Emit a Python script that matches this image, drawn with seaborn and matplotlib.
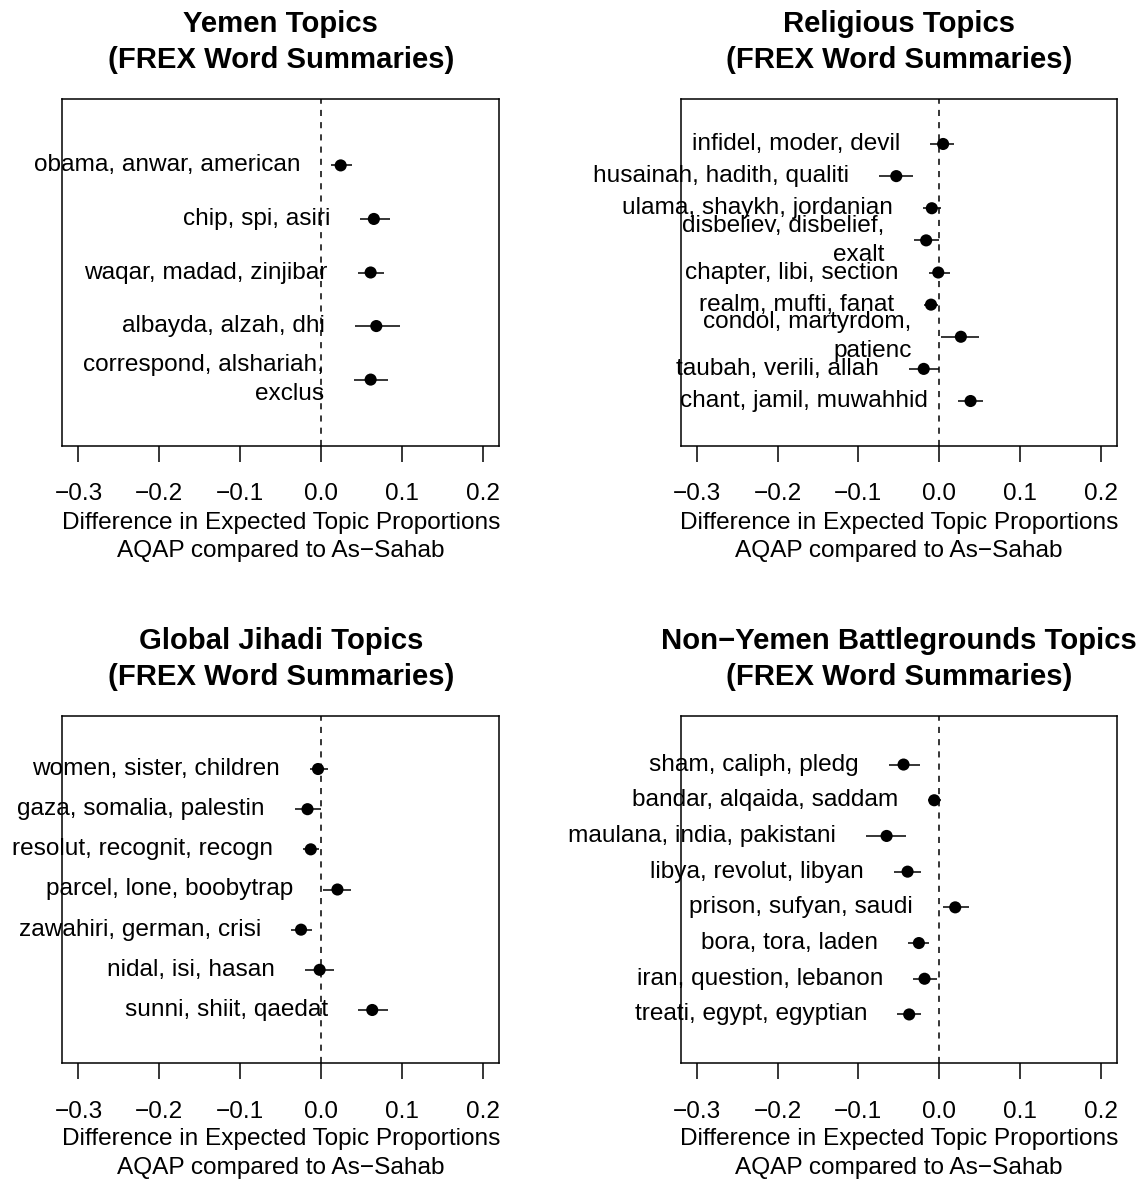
import textwrap
import numpy as np
import pandas as pd
import matplotlib
matplotlib.use("Agg")
import matplotlib.pyplot as plt
import seaborn as sns

# ---------------- data ----------------
yemen_labels = ["obama, anwar, american", "chip, spi, asiri", "waqar, madad, zinjibar",
                "albayda, alzah, dhi", "correspond, alshariah, exclus"]
yemen_est = [0.024, 0.065, 0.061, 0.068, 0.061]
yemen_lo = [0.012, 0.048, 0.045, 0.042, 0.040]
yemen_hi = [0.038, 0.085, 0.077, 0.097, 0.083]

relig_labels = ["infidel, moder, devil", "husainah, hadith, qualiti", "ulama, shaykh, jordanian",
                "disbeliev, disbelief, exalt", "chapter, libi, section", "realm, mufti, fanat",
                "condol, martyrdom, patienc", "taubah, verili, allah", "chant, jamil, muwahhid"]
relig_est = [0.005, -0.053, -0.009, -0.016, -0.001, -0.010, 0.027, -0.019, 0.039]
relig_lo = [-0.011, -0.074, -0.020, -0.031, -0.013, -0.019, 0.003, -0.037, 0.023]
relig_hi = [0.019, -0.032, 0.003, 0.000, 0.014, -0.001, 0.050, 0.000, 0.055]

global_labels = ["women, sister, children", "gaza, somalia, palestin", "resolut, recognit, recogn",
                 "parcel, lone, boobytrap", "zawahiri, german, crisi", "nidal, isi, hasan",
                 "sunni, shiit, qaedat"]
global_est = [-0.004, -0.017, -0.013, 0.020, -0.025, -0.002, 0.063]
global_lo = [-0.014, -0.033, -0.022, 0.002, -0.037, -0.020, 0.046]
global_hi = [0.008, 0.000, -0.003, 0.037, -0.012, 0.016, 0.083]

nonyem_labels = ["sham, caliph, pledg", "bandar, alqaida, saddam", "maulana, india, pakistani",
                 "libya, revolut, libyan", "prison, sufyan, saudi", "bora, tora, laden",
                 "iran, question, lebanon", "treati, egypt, egyptian"]
nonyem_est = [-0.044, -0.006, -0.065, -0.039, 0.020, -0.025, -0.018, -0.037]
nonyem_lo = [-0.062, -0.014, -0.091, -0.056, 0.005, -0.038, -0.032, -0.052]
nonyem_hi = [-0.024, 0.002, -0.041, -0.023, 0.037, -0.012, -0.002, -0.023]

titles = ["Yemen Topics", "Religious Topics", "Global Jihadi Topics",
          "Non\u2212Yemen Battlegrounds Topics"]
subtitle = "(FREX Word Summaries)"
xticks = [-0.3, -0.2, -0.1, 0.0, 0.1, 0.2]
xtick_labels = ["\u22120.3", "\u22120.2", "\u22120.1", "0.0", "0.1", "0.2"]
xlabel_text = "Difference in Expected Topic Proportions\nAQAP compared to As\u2212Sahab"

# ---------------- style ----------------
sns.set_theme(style="white")
plt.rcParams['font.family'] = ['Liberation Sans', 'DejaVu Sans']

DPI = 100
W, H = 1140, 1182


def pt(px):
    return px * 72.0 / DPI


FS = pt(24.4)
TFS = pt(29.3)
LW = 1.1

fig = plt.figure(figsize=(W / DPI, H / DPI), dpi=DPI)
fig.patch.set_facecolor("white")

boxes = [(62.3, 99, 499.3, 446), (680.7, 99, 1116.7, 446),
         (62.3, 716, 499.3, 1063), (680.7, 716, 1116.7, 1063)]
panels = [
    (yemen_labels, yemen_est, yemen_lo, yemen_hi),
    (relig_labels, relig_est, relig_lo, relig_hi),
    (global_labels, global_est, global_lo, global_hi),
    (nonyem_labels, nonyem_est, nonyem_lo, nonyem_hi),
]

for (x0, y0, x1, y1), (labels, est, lo, hi), title in zip(boxes, panels, titles):
    ax = fig.add_axes([x0 / W, 1 - y1 / H, (x1 - x0) / W, (y1 - y0) / H])
    ax.set_facecolor("white")
    n = len(labels)
    df = pd.DataFrame({"est": est, "lo": lo, "hi": hi,
                       "y": np.arange(n, 0, -1), "label": labels})
    ax.hlines(df["y"], df["lo"], df["hi"], color="black", lw=LW, zorder=2)
    sns.scatterplot(data=df, x="est", y="y", ax=ax, color="black", s=76,
                    edgecolor="none", linewidth=0, legend=False, zorder=3)
    ax.axvline(0, color="black", lw=LW, ls=(0, (4, 4)), zorder=1)
    ax.set_xlim(-0.32, 0.22)
    ax.set_ylim(-0.04 * (n + 1), 1.04 * (n + 1))
    ax.set_yticks([])
    ax.set_xticks(xticks)
    ax.set_xticklabels(xtick_labels)
    ax.tick_params(axis="x", direction="out", length=pt(15.5), width=LW,
                   pad=pt(22), labelsize=FS, colors="black", bottom=True)
    for s in ax.spines.values():
        s.set_visible(True)
        s.set_color("black")
        s.set_linewidth(LW)
    ax.set_ylabel("")
    ax.set_xlabel(xlabel_text, fontsize=FS, color="black", labelpad=pt(6), linespacing=1.4)
    for _, r in df.iterrows():
        ax.annotate(textwrap.fill(r["label"], 25), xy=(r["lo"], r["y"]),
                    xytext=(-pt(30), 0), textcoords="offset points",
                    ha="right", va="center", multialignment="right",
                    fontsize=FS, linespacing=1.4, color="black",
                    annotation_clip=False)
    ax.set_title(title + "\n" + subtitle, fontsize=TFS, fontweight="bold",
                 pad=pt(31), linespacing=1.36, color="black")

fig.savefig("out.png", dpi=DPI, facecolor="white")
